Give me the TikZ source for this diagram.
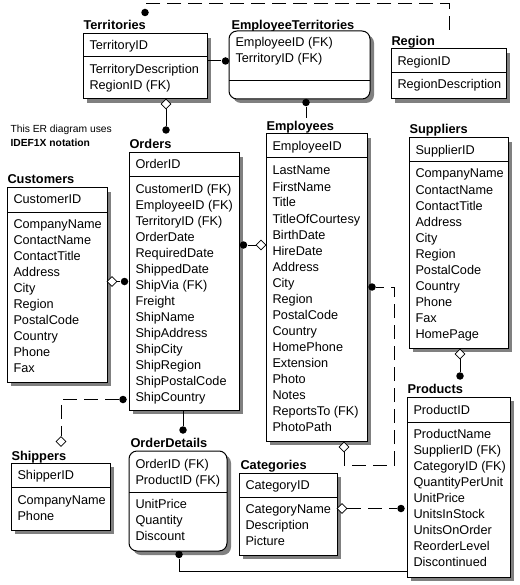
\documentclass[tikz,border=0pt]{standalone}
\usepackage{fontspec}
\setmainfont{Liberation Sans}
\usetikzlibrary{shapes.geometric}
\tikzset{
  every picture/.style={line width=1pt},
  boxshape/.style={draw=black, fill=white, inner sep=0, outer sep=0},
  roundbox/.style={rounded corners=8pt},
  sqbox/.style={},
  shadowfill/.style={fill=black!50},
  rowtext/.style={anchor=base west, inner sep=0, font=\fontsize{12.7}{15}\selectfont},
  titletext/.style={anchor=base west, inner sep=0, font=\fontsize{12.8}{15}\selectfont\bfseries},
  notetext/.style={anchor=base west, inner sep=0, font=\fontsize{10.3}{12}\selectfont},
  dot/.style={circle, fill=black, draw=none, inner sep=0, minimum size=7.5pt},
  dia/.style={diamond, draw=black, fill=white, line width=0.8pt, inner sep=0, minimum width=10pt, minimum height=10pt},
  rel/.style={draw=black, line width=1pt},
  reldash/.style={draw=black, line width=1pt, dash pattern=on 14pt off 7pt},
}
% box: name, L, T, R, B, divider y, style
\newcommand{\erbox}[7]{%
  \fill[shadowfill,#7] (#2+4,#3+4) rectangle (#4+4,#5+4);
  \node[boxshape,#7,minimum width={(#4-#2)*1pt}, minimum height={(#5-#3)*1pt}, anchor=north west] (#1) at (#2,#3) {};
  \draw (#2,#6) -- (#4,#6);
}
% rows: prefix, x, first centre y, list
\newcommand{\rowlist}[4]{%
  \foreach \t [count=\i from 0] in {#4} {\node[rowtext] (#1\i) at (#2, #3+4.5+16*\i) {\t};}
}
\begin{document}
\begin{tikzpicture}[x=1pt,y=-1pt]
\fill[white] (0,0) rectangle (519,585);
\useasboundingbox (0,0) rectangle (519,585);

% ---------- Territories
\node[titletext] (tTerr) at (83,29.5) {Territories};
\erbox{terr}{83}{34}{207}{99}{57}{sqbox}
\rowlist{terrk}{89}{45.5}{TerritoryID}
\rowlist{terra}{89}{69.5}{TerritoryDescription,RegionID (FK)}

% ---------- EmployeeTerritories
\node[titletext] (tET) at (231,29.5) {EmployeeTerritories};
\erbox{et}{229}{31}{370}{99}{81}{roundbox}
\rowlist{etk}{235}{42.5}{EmployeeID (FK),TerritoryID (FK)}

% ---------- Region
\node[titletext] (tReg) at (391,46) {Region};
\erbox{reg}{391}{49}{506}{99}{73}{sqbox}
\rowlist{regk}{397}{61}{RegionID}
\rowlist{rega}{397}{84.5}{RegionDescription}

% ---------- Note
\node[notetext] (note1) at (10,133) {This ER diagram uses};
\node[notetext, font=\fontsize{10.3}{12}\selectfont\bfseries] (note2) at (10,147) {IDEF1X notation};

% ---------- Customers
\node[titletext] (tCust) at (7,183.5) {Customers};
\erbox{cust}{7}{188}{107}{382}{212}{sqbox}
\rowlist{custk}{13}{199.5}{CustomerID}
\rowlist{custa}{13}{223.5}{CompanyName,ContactName,ContactTitle,Address,City,Region,PostalCode,Country,Phone,Fax}

% ---------- Orders
\node[titletext] (tOrd) at (129,148.5) {Orders};
\erbox{ord}{129}{153}{239}{410}{177}{sqbox}
\rowlist{ordk}{135}{164.5}{OrderID}
\rowlist{orda}{135}{189}{CustomerID (FK),EmployeeID (FK),TerritoryID (FK),OrderDate,RequiredDate,ShippedDate,ShipVia (FK),Freight,ShipName,ShipAddress,ShipCity,ShipRegion,ShipPostalCode,ShipCountry}

% ---------- Employees
\node[titletext] (tEmp) at (266,130.5) {Employees};
\erbox{emp}{266}{134}{367}{441}{158}{sqbox}
\rowlist{empk}{272}{146}{EmployeeID}
\rowlist{empa}{272}{170.5}{LastName,FirstName,Title,TitleOfCourtesy,BirthDate,HireDate,Address,City,Region,PostalCode,Country,HomePhone,Extension,Photo,Notes,ReportsTo (FK),PhotoPath}

% ---------- Suppliers
\node[titletext] (tSup) at (409,134) {Suppliers};
\erbox{sup}{409}{138}{508}{348}{162}{sqbox}
\rowlist{supk}{415}{150}{SupplierID}
\rowlist{supa}{415}{173.5}{CompanyName,ContactName,ContactTitle,Address,City,Region,PostalCode,Country,Phone,Fax,HomePage}

% ---------- Products
\node[titletext] (tProd) at (407,393.5) {Products};
\erbox{prod}{407}{397}{510}{577}{422}{sqbox}
\rowlist{prodk}{413}{409.5}{ProductID}
\rowlist{proda}{413}{433.5}{ProductName,SupplierID (FK),CategoryID (FK),QuantityPerUnit,UnitPrice,UnitsInStock,UnitsOnOrder,ReorderLevel,Discontinued}

% ---------- OrderDetails
\node[titletext] (tOD) at (130,447.5) {OrderDetails};
\erbox{od}{129}{451}{227}{551}{492}{roundbox}
\rowlist{odk}{135}{463.5}{OrderID (FK),ProductID (FK)}
\rowlist{oda}{135}{504}{UnitPrice,Quantity,Discount}

% ---------- Shippers
\node[titletext] (tShip) at (11,460.5) {Shippers};
\erbox{ship}{11}{463}{110}{530}{487}{sqbox}
\rowlist{shipk}{17}{475}{ShipperID}
\rowlist{shipa}{17}{499.5}{CompanyName,Phone}

% ---------- Categories
\node[titletext] (tCat) at (240,469.5) {Categories};
\erbox{cat}{239}{473}{337}{555}{497}{sqbox}
\rowlist{catk}{245}{485}{CategoryID}
\rowlist{cata}{245}{508.5}{CategoryName,Description,Picture}

% ---------- Relationships
% Region -> Territories
\node[dot] (dRT) at (145,12.5) {};
\coordinate (cRT) at (449,4);
\coordinate (cRR) at (449,30);
\draw[reldash] (cRR) -- (cRT) -| (dRT);

% Territories -> EmployeeTerritories
\node[dot] (dTE) at (225.5,61) {};
\draw[rel] (terr.east |- dTE) -- (dTE);

% Territories -> Orders
\node[dia] (mTO) at (166,104) {};
\node[dot] (dTO) at (166,130) {};
\draw[rel] (mTO) -- (dTO);

% Employees -> EmployeeTerritories
\node[dot] (dET) at (306,102.5) {};
\coordinate (cET) at (306,118);
\draw[rel] (dET) -- (cET);

% Employees -> Orders
\node[dot] (dOE) at (243.5,245) {};
\node[dia] (mOE) at (261,245) {};
\draw[rel] (dOE) -- (mOE);

% Customers -> Orders
\node[dia] (mCO) at (112,281.5) {};
\node[dot] (dCO) at (124.5,281.5) {};
\draw[rel] (mCO) -- (dCO);

% Shippers -> Orders
\node[dot] (dSO) at (123,399.5) {};
\node[dia] (mSO) at (61,441.5) {};
\draw[reldash] (dSO) -| (mSO);

% Orders -> OrderDetails
\node[dot] (dOD) at (183,430) {};
\draw[rel] (ord.south -| dOD) -- (dOD);

% Employees ReportsTo (self)
\node[dia] (mEE) at (344,447) {};
\node[dot] (dEE) at (372,287) {};
\coordinate (cE1) at (394.5,465);
\draw[reldash] (mEE) |- (cE1) |- (dEE);

% Suppliers -> Products
\node[dia] (mSP) at (460,354) {};
\node[dot] (dSP) at (460,376) {};
\draw[rel] (mSP) -- (dSP);

% Categories -> Products
\node[dia] (mCP) at (342,508.5) {};
\node[dot] (dCP) at (401,508.5) {};
\draw[reldash] (mCP) -- (dCP);

% Products -> OrderDetails
\node[dot] (dPO) at (179,554.5) {};
\coordinate (cPO) at (179,571);
\draw[rel] (dPO) -- (cPO) -- (prod.west |- cPO);
\end{tikzpicture}
\end{document}
